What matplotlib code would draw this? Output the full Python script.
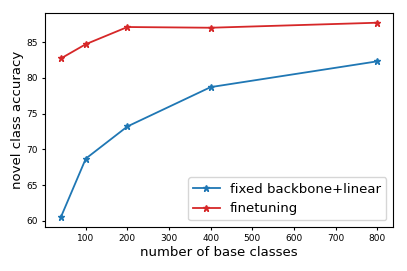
import matplotlib
matplotlib.use("Agg")
import matplotlib.pyplot as plt

base_classes = [40, 100, 200, 400, 800]
fixed_linear = [60.5, 68.7, 73.2, 78.7, 82.3]
finetuning = [82.7, 84.7, 87.1, 87.0, 87.7]

fig = plt.figure(figsize=(4.07, 2.71), dpi=100)
ax = fig.add_axes([45 / 407, 44 / 271, 348 / 407, 214 / 271])

ax.plot(base_classes, fixed_linear, marker='*', markersize=5, linewidth=1.3,
        color='tab:blue', label='fixed backbone+linear')
ax.plot(base_classes, finetuning, marker='*', markersize=5, linewidth=1.3,
        color='tab:red', label='finetuning')

ax.set_xticks([100, 200, 300, 400, 500, 600, 700, 800])
ax.set_yticks([60, 65, 70, 75, 80, 85])
ax.tick_params(labelsize=6.5, length=2.5, pad=2.5)
ax.set_xlabel('number of base classes', fontsize=9.5, labelpad=2)
ax.set_ylabel('novel class accuracy', fontsize=9.5, labelpad=2)
ax.legend(loc='lower right', fontsize=9.5)

fig.savefig('out.png', dpi=100)
